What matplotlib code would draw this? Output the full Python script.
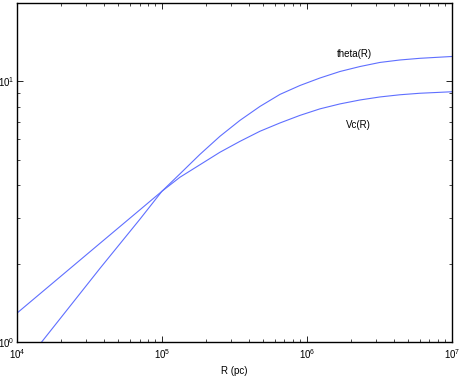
import matplotlib
matplotlib.use('Agg')
from matplotlib import pyplot as plt

plt.rcParams['font.family'] = ['Liberation Sans', 'DejaVu Sans']
plt.rcParams['mathtext.fontset'] = 'custom'
plt.rcParams['mathtext.rm'] = 'Liberation Sans'
plt.rcParams['mathtext.it'] = 'Liberation Sans:italic'

# values (R in pc)
r_theta = [1.0e4, 1.479e4, 3.733e4, 7.047e4, 1.0e5, 1.331e5, 1.828e5,
           2.512e5, 3.451e5, 4.742e5, 6.516e5, 8.953e5, 1.230e6, 1.690e6,
           2.322e6, 3.187e6, 4.378e6, 6.015e6, 1.0e7]
theta = [0.76, 1.0, 1.916, 2.96, 3.79, 4.42, 5.25,
         6.16, 7.09, 8.02, 8.92, 9.65, 10.31, 10.92,
         11.41, 11.83, 12.09, 12.27, 12.47]

r_vc = [1.0e4, 1.98e4, 3.733e4, 7.047e4, 1.0e5, 1.331e5, 1.828e5,
        2.512e5, 3.451e5, 4.742e5, 6.516e5, 8.953e5, 1.230e6, 1.690e6,
        2.322e6, 3.187e6, 4.378e6, 6.015e6, 1.0e7]
vc = [1.291, 1.777, 2.391, 3.217, 3.79, 4.29, 4.79,
      5.35, 5.89, 6.44, 6.93, 7.41, 7.85, 8.20,
      8.49, 8.72, 8.89, 9.01, 9.13]

fig = plt.figure(figsize=(4.63, 3.78), dpi=100)
ax = fig.add_axes([0.0367, 0.0952, 0.9393, 0.8968])

ax.loglog(r_theta, theta, color='#5f6fff', lw=0.8)
ax.loglog(r_vc, vc, color='#5f6fff', lw=0.8)

ax.set_xlim(1e4, 1e7)
ax.set_ylim(1, 20)

ax.text(2.14e6, 12.8, 'theta(R)', fontsize=7, ha='center', va='center')
ax.text(2.25e6, 6.78, 'Vc(R)', fontsize=7, ha='center', va='center')
ax.set_xlabel('R (pc)', fontsize=7, labelpad=3)

ax.tick_params(which='both', direction='in', top=True, right=True, labelsize=7)
ax.tick_params(which='major', length=4, width=0.6)
ax.tick_params(which='minor', length=2, width=0.5)
ax.tick_params(axis='y', pad=1.5)
ax.tick_params(axis='x', pad=4)
for s in ax.spines.values():
    s.set_linewidth(1.0)

fig.savefig('out.png', dpi=100)
